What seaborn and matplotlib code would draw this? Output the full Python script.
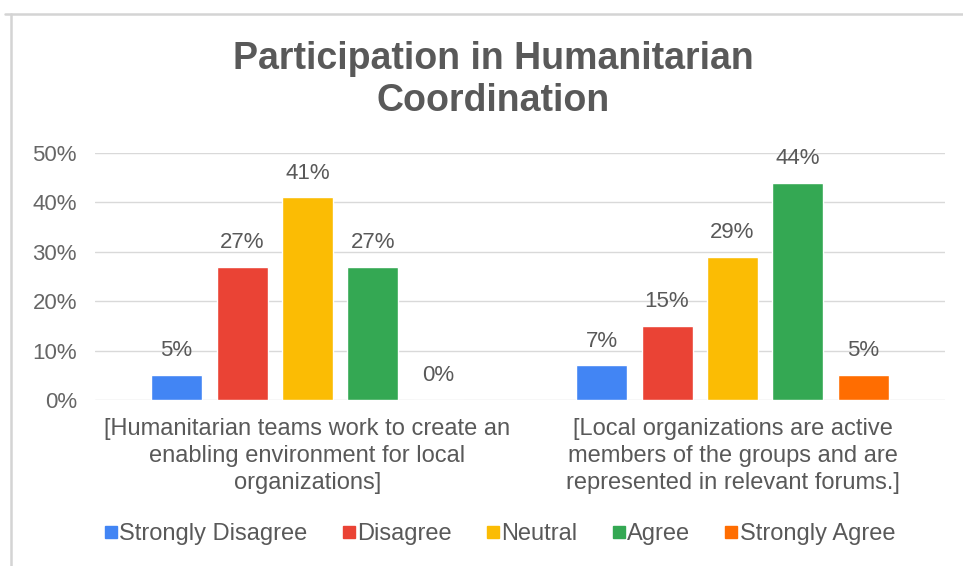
import matplotlib
matplotlib.use("Agg")
import matplotlib.pyplot as plt
import seaborn as sns
import pandas as pd
from matplotlib.lines import Line2D

# Survey statements (x categories) and response scale (hue)
statements = [
    "[Humanitarian teams work to create an\nenabling environment for local\norganizations]",
    "[Local organizations are active\nmembers of the groups and are\nrepresented in relevant forums.]",
]
responses = ["Strongly Disagree", "Disagree", "Neutral", "Agree", "Strongly Agree"]
teams_enabling = [5, 27, 41, 27, 0]
local_members = [7, 15, 29, 44, 5]
y_ticks = [0, 10, 20, 30, 40, 50]
colors = ["#4285F4", "#EA4335", "#FBBC04", "#34A853", "#FF6D01"]

df = pd.DataFrame({
    "statement": [statements[0]] * 5 + [statements[1]] * 5,
    "response": responses * 2,
    "pct": teams_enabling + local_members,
})

sns.set_theme(style="white")
plt.rcParams["font.family"] = ["Liberation Sans", "DejaVu Sans"]

W, H = 963, 566
fig = plt.figure(figsize=(W / 100, H / 100), dpi=100)
ax = fig.add_axes([95 / W, 1 - 400 / H, 850 / W, 247 / H])

sns.barplot(data=df, x="statement", y="pct", hue="response",
            hue_order=responses, order=statements, palette=colors,
            saturation=1, width=0.77, gap=0.22, legend=False, ax=ax)

ax.set_ylim(0, 50)
ax.set_yticks(y_ticks)
ax.set_yticklabels([f"{t}%" for t in y_ticks], fontsize=16, color="#666666")
ax.tick_params(axis="y", length=0, pad=13)
ax.tick_params(axis="x", length=0, pad=13)
ax.set_xticks(range(len(statements)))
ax.set_xticklabels(statements, fontsize=17, color="#595959", linespacing=1.3)
ax.set_xlabel("")
ax.set_ylabel("")
ax.grid(axis="y", color="#d9d9d9", linewidth=1)
ax.set_axisbelow(True)
for s in ax.spines.values():
    s.set_visible(False)

# value labels above each bar
for cont in ax.containers:
    vals = [b.get_height() for b in cont]
    ax.bar_label(cont, labels=[f"{v:.0f}%" for v in vals], padding=10,
                 fontsize=16, color="#595959")

fig.text(493 / W, 1 - 80 / H,
         "Participation in Humanitarian\nCoordination",
         ha="center", va="center", fontsize=27, fontweight="bold",
         color="#595959", linespacing=1.22)

handles = [Line2D([], [], marker="s", linestyle="none", markersize=9,
                  markerfacecolor=c, markeredgecolor=c) for c in colors]
fig.legend(handles, responses, loc="center", ncol=5,
           bbox_to_anchor=(500 / W, 1 - 534 / H), frameon=False,
           fontsize=17, labelcolor="#595959", handlelength=0.5,
           handletextpad=0.1, columnspacing=1.5)

# panel border (top and left edges)
fig.add_artist(Line2D([5 / W, 1], [1 - 13.5 / H] * 2, color="#d4d4d4",
                      lw=1.8, transform=fig.transFigure))
fig.add_artist(Line2D([10.5 / W] * 2, [0, 1 - 13.5 / H], color="#d4d4d4",
                      lw=1.8, transform=fig.transFigure))

fig.savefig("out.png", dpi=100, facecolor="white")
